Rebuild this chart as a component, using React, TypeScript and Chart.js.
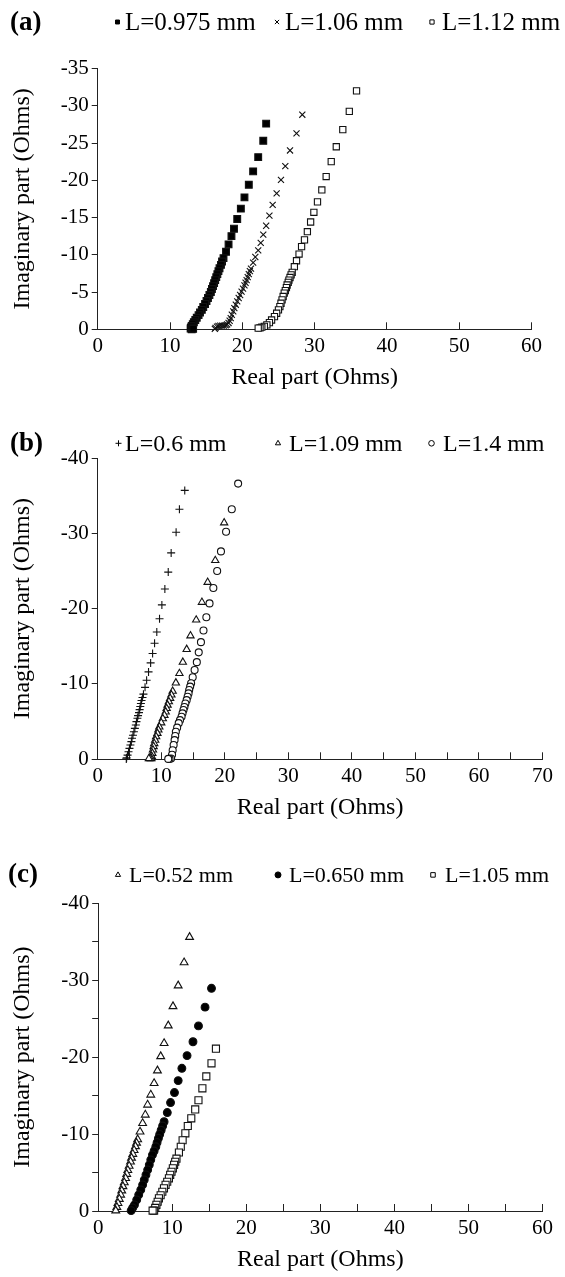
import React, { useEffect, useRef } from 'react';
import { Chart, registerables } from 'chart.js';
import { drawPoint } from 'chart.js/helpers';

Chart.register(...registerables);

const FONT = '"Liberation Serif", "Times New Roman", serif';

type Pt = [number, number];

// ---------- Panel (a) ----------
const aSeries1: Pt[] = [
  [23.3, -27.6], [22.9, -25.3], [22.2, -23.1], [21.5, -21.2], [20.9, -19.4], [20.3, -17.7],
  [19.8, -16.2], [19.3, -14.8], [18.85, -13.5], [18.5, -12.5], [18.1, -11.4], [17.75, -10.4],
  [17.4, -9.55], [17.2, -9.1], [17.05, -8.65], [16.85, -8.2], [16.7, -7.8], [16.55, -7.4],
  [16.4, -7.0], [16.25, -6.6], [16.1, -6.2], [15.95, -5.8], [15.8, -5.4], [15.65, -5.0],
  [15.45, -4.6], [15.25, -4.2], [15.05, -3.8], [14.85, -3.4], [14.6, -3.0], [14.4, -2.6],
  [14.15, -2.25], [13.95, -1.9], [13.7, -1.55], [13.5, -1.25], [13.3, -0.95], [13.15, -0.7],
  [13.0, -0.45], [12.9, -0.25], [12.85, -0.1], [13.0, 0], [13.2, -0.05],
];
const aSeries2: Pt[] = [
  [28.3, -28.8], [27.5, -26.3], [26.6, -24.0], [25.95, -21.9], [25.35, -20.05], [24.75, -18.25],
  [24.2, -16.7], [23.75, -15.25], [23.3, -13.9], [22.9, -12.7], [22.55, -11.6], [22.2, -10.6],
  [21.8, -9.7], [21.5, -8.95], [21.2, -8.15], [21.05, -7.8], [20.9, -7.4], [20.75, -7.0],
  [20.6, -6.6], [20.45, -6.25], [20.3, -5.9], [20.1, -5.45], [19.9, -5.05], [19.7, -4.6],
  [19.5, -4.2], [19.3, -3.75], [19.1, -3.3], [18.9, -2.85], [18.75, -2.4], [18.55, -1.95],
  [18.4, -1.5], [18.25, -1.15], [18.1, -0.85], [17.9, -0.65], [17.7, -0.55], [17.45, -0.5],
  [17.2, -0.5], [16.95, -0.5], [16.7, -0.45], [16.5, -0.35], [16.3, -0.2], [16.2, -0.05],
];
const aSeries3: Pt[] = [
  [35.8, -32.0], [34.8, -29.25], [33.9, -26.8], [33.0, -24.5], [32.3, -22.5], [31.6, -20.5],
  [31.0, -18.7], [30.4, -17.1], [29.9, -15.7], [29.45, -14.4], [29.0, -13.1], [28.6, -12.0],
  [28.2, -11.1], [27.85, -10.1], [27.5, -9.2], [27.2, -8.4], [26.9, -7.65], [26.75, -7.3],
  [26.6, -6.95], [26.45, -6.6], [26.35, -6.3], [26.2, -5.95], [26.1, -5.6], [25.95, -5.2],
  [25.8, -4.85], [25.65, -4.4], [25.5, -3.95], [25.35, -3.5], [25.2, -3.05], [25.0, -2.6],
  [24.75, -2.15], [24.45, -1.7], [24.05, -1.25], [23.75, -0.9], [23.4, -0.6], [23.05, -0.4],
  [22.7, -0.3], [22.45, -0.2], [22.2, -0.15],
];
const aLabels = ['L=0.975 mm', 'L=1.06 mm', 'L=1.12 mm'];

// ---------- Panel (b) ----------
const bSeries1: Pt[] = [
  [13.7, -35.7], [12.86, -33.2], [12.34, -30.15], [11.56, -27.4], [11.1, -24.85], [10.57, -22.6],
  [10.1, -20.5], [9.73, -18.65], [9.3, -16.9], [8.95, -15.4], [8.64, -14.05], [8.33, -12.8],
  [8.0, -11.6], [7.7, -10.5], [7.45, -9.55], [7.2, -8.65], [7.05, -8.2], [6.9, -7.8],
  [6.8, -7.4], [6.7, -7.0], [6.6, -6.6], [6.5, -6.2], [6.35, -5.8], [6.25, -5.45],
  [6.1, -5.0], [6.0, -4.55], [5.85, -4.1], [5.7, -3.65], [5.55, -3.2], [5.4, -2.8],
  [5.3, -2.35], [5.15, -1.9], [5.0, -1.45], [4.85, -1.0], [4.7, -0.55], [4.55, -0.2], [4.5, -0.05],
];
const bSeries2: Pt[] = [
  [19.9, -31.4], [18.5, -26.4], [17.3, -23.5], [16.4, -20.85], [15.5, -18.5], [14.6, -16.4],
  [14.0, -14.6], [13.4, -12.9], [12.86, -11.4], [12.3, -10.15], [11.8, -9.05], [11.6, -8.55],
  [11.4, -8.1], [11.2, -7.65], [11.0, -7.2], [10.85, -6.75], [10.7, -6.3], [10.5, -5.85],
  [10.25, -5.4], [10.0, -4.85], [9.7, -4.3], [9.55, -3.9], [9.4, -3.45], [9.2, -3.0],
  [9.05, -2.55], [8.9, -2.1], [8.8, -1.7], [8.7, -1.25], [8.6, -0.8], [8.5, -0.4],
  [8.45, -0.1], [8.25, -0.1], [8.05, -0.1],
];
const bSeries3: Pt[] = [
  [22.1, -36.6], [21.1, -33.2], [20.2, -30.2], [19.4, -27.6], [18.8, -25.0], [18.2, -22.75],
  [17.6, -20.7], [17.1, -18.85], [16.65, -17.1], [16.25, -15.55], [15.9, -14.2], [15.6, -12.9],
  [15.25, -11.85], [14.95, -10.9], [14.7, -10.1], [14.55, -9.65], [14.4, -9.2], [14.3, -8.75],
  [14.15, -8.3], [14.0, -7.85], [13.8, -7.4], [13.65, -6.95], [13.5, -6.55], [13.35, -6.1],
  [13.2, -5.65], [12.95, -5.2], [12.75, -4.8], [12.5, -4.2], [12.3, -3.65], [12.2, -3.1],
  [12.1, -2.55], [11.95, -1.9], [11.8, -1.2], [11.7, -0.6], [11.55, -0.1], [11.3, -0.05], [11.1, -0.05],
];
const bLabels = ['L=0.6 mm', 'L=1.09 mm', 'L=1.4 mm'];

// ---------- Panel (c) ----------
const cSeries1: Pt[] = [
  [12.34, -35.6], [11.6, -32.3], [10.8, -29.3], [10.1, -26.6], [9.46, -24.1], [8.9, -21.8],
  [8.44, -20.1], [8.0, -18.25], [7.55, -16.6], [7.1, -15.1], [6.67, -13.8], [6.36, -12.5],
  [6.0, -11.4], [5.65, -10.3], [5.33, -9.3], [5.18, -8.85], [5.03, -8.4], [4.85, -7.9],
  [4.67, -7.4], [4.5, -6.9], [4.36, -6.4], [4.18, -5.85], [4.0, -5.3], [3.85, -4.8],
  [3.7, -4.25], [3.52, -3.7], [3.34, -3.2], [3.18, -2.65], [3.03, -2.1], [2.85, -1.55],
  [2.67, -1.0], [2.52, -0.5], [2.37, -0.05],
];
const cSeries2: Pt[] = [
  [15.3, -28.95], [14.43, -26.5], [13.54, -24.06], [12.8, -22.0], [12.0, -20.2], [11.3, -18.55],
  [10.8, -16.95], [10.3, -15.4], [9.77, -14.1], [9.33, -12.8], [8.9, -11.6], [8.7, -11.05],
  [8.5, -10.5], [8.3, -9.95], [8.13, -9.45], [7.95, -8.9], [7.78, -8.35], [7.55, -7.8],
  [7.33, -7.3], [7.1, -6.65], [6.9, -6.0], [6.68, -5.35], [6.45, -4.7], [6.22, -4.05],
  [6.0, -3.4], [5.75, -2.75], [5.47, -2.1], [5.2, -1.45], [4.9, -0.8], [4.65, -0.4], [4.45, -0.05],
];
const cSeries3: Pt[] = [
  [15.9, -21.1], [15.3, -19.2], [14.6, -17.5], [14.07, -15.95], [13.54, -14.4], [13.1, -13.2],
  [12.57, -12.05], [12.1, -11.05], [11.77, -10.1], [11.4, -9.2], [11.15, -8.35], [10.9, -7.6],
  [10.57, -6.8], [10.4, -6.4], [10.25, -6.0], [10.08, -5.55], [9.9, -5.1], [9.72, -4.7],
  [9.55, -4.25], [9.32, -3.8], [9.1, -3.4], [8.88, -2.95], [8.66, -2.5], [8.43, -2.05],
  [8.2, -1.65], [8.03, -1.2], [7.86, -0.8], [7.7, -0.4], [7.55, -0.05], [7.35, -0.05],
];
const cLabels = ['L=0.52 mm', 'L=0.650 mm', 'L=1.05 mm'];

const X_TITLE = 'Real part (Ohms)';
const Y_TITLE = 'Imaginary part (Ohms)';

interface SeriesDef {
  label: string;
  data: Pt[];
  style: string;
  radius: number;
  filled: boolean;
  legendRadius: number;
}

interface PanelDef {
  tag: string;
  tagX: number;
  top: number;
  height: number;
  left: number;
  right: number;
  areaTop: number;
  areaBottom: number;
  xMax: number;
  xStep: number;
  xLabelEvery: number;
  yMin: number;
  yStep: number;
  yLabelEvery: number;
  xTitlePad: number;
  legendSize: number;
  baseline: number;
  markerX: number[];
  textX: number[];
  series: SeriesDef[];
}

const panels: PanelDef[] = [
  {
    tag: '(a)', tagX: 10, top: 0, height: 400,
    left: 97.7, right: 531.5, areaTop: 68.5, areaBottom: 329.3,
    xMax: 60, xStep: 10, xLabelEvery: 10, yMin: -35, yStep: 5, yLabelEvery: 5,
    xTitlePad: 7.6, legendSize: 25, baseline: 29.5,
    markerX: [117.5, 277, 432], textX: [125, 285, 442],
    series: [
      { label: aLabels[0], data: aSeries1, style: 'rect', radius: 4.8, filled: true, legendRadius: 2.8 },
      { label: aLabels[1], data: aSeries2, style: 'crossRot', radius: 4.3, filled: false, legendRadius: 3 },
      { label: aLabels[2], data: aSeries3, style: 'rect', radius: 4.4, filled: false, legendRadius: 3 },
    ],
  },
  {
    tag: '(b)', tagX: 10, top: 400, height: 430,
    left: 97.7, right: 545.7, areaTop: 58, areaBottom: 359.3,
    xMax: 70, xStep: 5, xLabelEvery: 10, yMin: -40, yStep: 10, yLabelEvery: 10,
    xTitlePad: 7.6, legendSize: 24, baseline: 50.5,
    markerX: [118.5, 278, 431.5], textX: [125, 289, 443],
    series: [
      { label: bLabels[0], data: bSeries1, style: 'cross', radius: 4.0, filled: false, legendRadius: 3 },
      { label: bLabels[1], data: bSeries2, style: 'triangle', radius: 4.2, filled: false, legendRadius: 3 },
      { label: bLabels[2], data: bSeries3, style: 'circle', radius: 3.5, filled: false, legendRadius: 2.8 },
    ],
  },
  {
    tag: '(c)', tagX: 8, top: 830, height: 447,
    left: 98.2, right: 549.3, areaTop: 73.3, areaBottom: 381,
    xMax: 60, xStep: 5, xLabelEvery: 10, yMin: -40, yStep: 5, yLabelEvery: 10,
    xTitlePad: 2.6, legendSize: 22, baseline: 51.5,
    markerX: [118, 278, 433], textX: [129, 289, 445],
    series: [
      { label: cLabels[0], data: cSeries1, style: 'triangle', radius: 4.5, filled: false, legendRadius: 3 },
      { label: cLabels[1], data: cSeries2, style: 'circle', radius: 3.9, filled: true, legendRadius: 3 },
      { label: cLabels[2], data: cSeries3, style: 'rect', radius: 5.0, filled: false, legendRadius: 3.2 },
    ],
  },
];

function Panel({ p }: { p: PanelDef }) {
  const ref = useRef<HTMLCanvasElement>(null);
  useEffect(() => {
    const canvas = ref.current;
    if (!canvas) return;
    const tickFont = { family: FONT, size: 21 };
    const titleFont = { family: FONT, size: 24 };

    const overlay = {
      id: 'overlay',
      afterDraw(chart: any) {
        const ctx = chart.ctx as CanvasRenderingContext2D;
        ctx.save();
        ctx.textAlign = 'left';
        ctx.textBaseline = 'alphabetic';
        ctx.fillStyle = '#000';
        ctx.font = `bold 27px ${FONT}`;
        ctx.fillText(p.tag, p.tagX, p.baseline);
        ctx.font = `${p.legendSize}px ${FONT}`;
        p.series.forEach((s, i) => {
          ctx.fillStyle = s.filled ? '#000' : '#fff';
          ctx.strokeStyle = '#000';
          ctx.lineWidth = 1;
          drawPoint(
            ctx,
            { pointStyle: s.style as any, radius: s.legendRadius, borderWidth: 1, rotation: 0 } as any,
            p.markerX[i],
            p.baseline - p.legendSize * 0.3,
          );
          ctx.fillStyle = '#000';
          ctx.fillText(s.label, p.textX[i], p.baseline);
        });
        ctx.restore();
      },
    };

    const chart = new Chart(canvas, {
      type: 'scatter',
      data: {
        datasets: p.series.map((s) => ({
          label: s.label,
          data: s.data.map(([x, y]) => ({ x, y })),
          pointStyle: s.style as any,
          pointRadius: s.radius,
          pointBorderWidth: 1.1,
          pointBackgroundColor: s.filled ? '#000' : '#fff',
          pointBorderColor: '#111',
          showLine: false,
          clip: false as any,
        })),
      },
      options: {
        animation: false,
        responsive: false,
        devicePixelRatio: 1,
        events: [],
        layout: { padding: { left: 0, top: p.areaTop, right: 565 - p.right, bottom: 0 } },
        plugins: { legend: { display: false }, tooltip: { enabled: false } },
        scales: {
          x: {
            type: 'linear',
            position: 'bottom',
            min: 0,
            max: p.xMax,
            ticks: {
              stepSize: p.xStep,
              autoSkip: false,
              maxRotation: 0,
              font: tickFont,
              color: '#000',
              padding: 12,
              callback: (v: any) => (Math.abs(Math.round(Number(v))) % p.xLabelEvery === 0 ? String(Math.round(Number(v))) : ''),
            },
            grid: { drawOnChartArea: false, drawTicks: true, tickLength: -7, color: '#222', lineWidth: 1 },
            border: { display: true, color: '#222', width: 1 },
            title: { display: true, text: X_TITLE, font: titleFont, color: '#000', padding: { top: 0, bottom: p.xTitlePad } },
            afterFit: (s: any) => {
              s.height = p.height - p.areaBottom;
            },
          },
          y: {
            type: 'linear',
            position: 'left',
            min: p.yMin,
            max: 0,
            reverse: true,
            ticks: {
              stepSize: p.yStep,
              autoSkip: false,
              font: tickFont,
              color: '#000',
              padding: 3,
              callback: (v: any) => (Math.abs(Math.round(Number(v))) % p.yLabelEvery === 0 ? String(Math.round(Number(v))) : ''),
            },
            grid: { drawOnChartArea: false, drawTicks: true, tickLength: 6, color: '#222', lineWidth: 1 },
            border: { display: true, color: '#222', width: 1 },
            title: { display: true, text: Y_TITLE, font: titleFont, color: '#000', padding: { top: 8, bottom: 0 } },
            afterFit: (s: any) => {
              s.width = p.left;
            },
          },
        },
      } as any,
      plugins: [overlay],
    });
    return () => chart.destroy();
  }, [p]);
  return (
    <canvas
      ref={ref}
      width={565}
      height={p.height}
      style={{ position: 'absolute', left: 0, top: p.top, width: 565, height: p.height }}
    />
  );
}

export default function App() {
  return (
    <div style={{ position: 'absolute', left: 0, top: 0, width: 565, height: 1277, background: '#fff', overflow: 'hidden' }}>
      {panels.map((p) => (
        <Panel key={p.tag} p={p} />
      ))}
    </div>
  );
}
